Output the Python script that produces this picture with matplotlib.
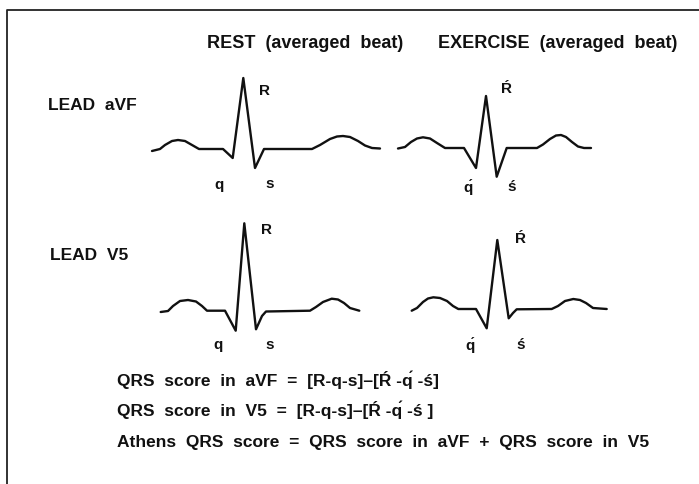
import matplotlib
matplotlib.use("Agg")
import matplotlib.pyplot as plt
import numpy as np

plt.rcParams['font.family'] = ['Liberation Sans', 'DejaVu Sans']

# ---- data: averaged beats (time in px-units from beat start, amplitude in px-units above baseline)
rest_avf_t = [0, 8, 13, 20, 26, 33, 40, 47, 71, 80.7, 91.3, 103, 112, 160, 168, 178, 185, 191, 198, 206, 213, 220, 228]
rest_avf_v = [-2, 0, 4, 8, 9, 8, 4, 0, 0, -9, 71, -19, 0, 0, 4, 10, 12.5, 13, 12, 8, 3.5, 1, 0.5]

ex_avf_t = [0, 7, 13, 19, 25, 32, 39, 47, 66, 78, 88, 98.7, 108.7, 139, 145, 152, 158, 163, 168, 174, 180, 186, 193]
ex_avf_v = [-0.5, 1, 6, 9.5, 10.7, 9.5, 5, 0, 0, -20, 52, -28.7, 0, 0, 3.5, 9, 12.5, 13, 11, 6, 1.5, 0, 0]

rest_v5_t = [0.7, 8, 13, 20, 28, 36, 42, 47, 65, 75.7, 84.3, 96, 102, 106, 150, 156, 163, 171.7, 178, 184, 190, 199.3]
rest_v5_v = [-1, 0, 5, 10, 11, 9.5, 5, 0.3, 0.3, -19.7, 87.7, -18.3, -5, -0.5, 0.3, 4, 9, 12.3, 11.5, 8, 3, 0.3]

ex_v5_t = [0.7, 6, 12, 17, 22.3, 29, 36, 42, 47.3, 65, 75.7, 86.3, 97.7, 102, 105.7, 140.7, 147, 154, 162.3, 169, 175, 182, 195.7]
ex_v5_v = [-1.7, 1, 7, 10.5, 11.7, 11, 8, 3, 0, 0, -19.3, 69, -9.3, -4, -0.3, 0, 3, 8, 10, 9, 6, 1, 0]

col_titles = ["REST  (averaged  beat)", "EXERCISE  (averaged  beat)"]
row_titles = ["LEAD  aVF", "LEAD  V5"]
rest_labels = ["R", "q", "s"]
ex_labels = ["Ŕ", "q\u0301", "ś"]
formula_lines = [
    "QRS  score  in  aVF  =  [R-q-s]\u2013[Ŕ -q\u0301 -ś]",
    "QRS  score  in  V5  =  [R-q-s]\u2013[Ŕ -q\u0301 -ś ]",
    "Athens  QRS  score  =  QRS  score  in  aVF  +  QRS  score  in  V5",
]

# ---- figure
W, H = 699, 484
fig = plt.figure(figsize=(W / 100, H / 100), dpi=100)
ax = fig.add_axes([0, 0, 1, 1])
ax.set_xlim(0, W)
ax.set_ylim(H, 0)
ax.axis('off')

# frame
ax.plot([7, 7, W + 5], [H + 5, 10, 10], color='#222222', lw=1.3, solid_capstyle='butt')

ink = '#111111'
head = dict(fontsize=13, fontweight='bold', color=ink)
lead = dict(fontsize=12.5, fontweight='bold', color=ink)
lab = dict(fontsize=11, fontweight='bold', color=ink)
form = dict(fontsize=12.5, fontweight='bold', color=ink)

# column / row titles
ax.text(305, 44, col_titles[0], ha='center', va='center', **head)
ax.text(558, 44, col_titles[1], ha='center', va='center', **head)
ax.text(48, 106, row_titles[0], ha='left', va='center', **lead)
ax.text(50, 255, row_titles[1], ha='left', va='center', **lead)

beats = [
    (rest_avf_t, rest_avf_v, 152, 149, rest_labels, [(265, 91), (219, 185), (270, 184)]),
    (ex_avf_t, ex_avf_v, 398, 148, ex_labels, [(507, 89), (468, 187), (512, 187)]),
    (rest_v5_t, rest_v5_v, 160, 311, rest_labels, [(267, 230), (218, 345), (270, 345)]),
    (ex_v5_t, ex_v5_v, 411, 309, ex_labels, [(520, 239), (470, 345), (521, 345)]),
]
for t, v, x0, base, labs, pos in beats:
    ax.plot(x0 + np.asarray(t), base - np.asarray(v), color=ink, lw=1.7,
            solid_joinstyle='round', solid_capstyle='round')
    for s, (lx, ly) in zip(labs, pos):
        ax.text(lx, ly, s, ha='center', va='center', **lab)

# formulas
for y, line in zip([380, 409.5, 443], formula_lines):
    ax.text(117, y, line, ha='left', va='center', **form)

fig.savefig("out.png", dpi=100)
